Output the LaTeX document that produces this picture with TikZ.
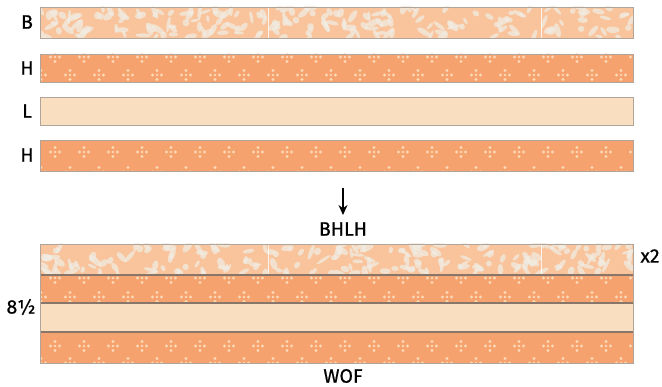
\documentclass[tikz,border=0pt]{standalone}
\usepackage{fontspec}
\setmainfont{Fira Sans}
\newfontfamily\labfont{Fira Sans}[FakeBold=0.6]
\usetikzlibrary{arrows.meta}
\definecolor{hcol}{RGB}{245,162,110}
\definecolor{bcol}{RGB}{249,196,156}
\definecolor{lcol}{RGB}{250,222,192}
\definecolor{motif}{RGB}{252,218,182}
\definecolor{blot}{RGB}{241,236,226}
\definecolor{edgec}{RGB}{175,165,155}
\definecolor{divc}{RGB}{135,118,105}
\tikzset{
  lab/.style={font=\labfont\fontsize{19.5}{22}\selectfont, inner sep=0pt},
  outline/.style={draw=edgec, line width=0.8pt},
  divline/.style={draw=divc, line width=1.1pt},
  seam/.style={draw=white, line width=0.9pt, opacity=0.8},
}
\newcommand\bstrip[3]{% ytop ybot seed
  \begin{scope}
    \clip (40,#1) rectangle (633,#2);
    \fill[bcol] (40,#1) rectangle (633,#2);
    \pgfmathsetseed{#3}
    \foreach \i in {1,...,190}{
      \pgfmathsetmacro\xx{40+593*rnd}
      \pgfmathsetmacro\yy{#1+(#2-#1)*rnd}
      \pgfmathsetmacro\rr{180*rnd}
      \pgfmathsetmacro\aa{3+5*rnd}
      \pgfmathsetmacro\bb{1.5+2*rnd}
      \fill[blot, opacity=0.75, rotate around={\rr:(\xx,\yy)}] (\xx,\yy) ellipse (\aa pt and \bb pt);
    }
    \draw[seam] (268,#1) -- (268,#2);
    \draw[seam] (541,#1) -- (541,#2);
  \end{scope}}
\newcommand\motifd[2]{% x y
  \fill[motif] (#1,#2-4.5) circle (1.6pt) (#1+4.5,#2) circle (1.6pt)
    (#1,#2+4.5) circle (1.6pt) (#1-4.5,#2) circle (1.6pt) (#1,#2) circle (1.4pt);}
\newcommand\hstrip[4]{% ytop ybot row1 row2
  \begin{scope}
    \clip (40,#1) rectangle (633,#2);
    \fill[hcol] (40,#1) rectangle (633,#2);
    \foreach \x in {55,84,...,650}{ \motifd{\x}{#3} }
    \foreach \x in {41,70,...,650}{ \motifd{\x}{#4} }
  \end{scope}}
\begin{document}
\begin{tikzpicture}[x=1pt,y=-1pt]
\useasboundingbox (0,0) rectangle (662,387);
% top strips
\bstrip{7}{38}{11}
\draw[outline] (40,7) rectangle (633,38);
\hstrip{54}{82}{57}{75}
\draw[outline] (40,54) rectangle (633,82);
\fill[lcol] (40,97) rectangle (633,125);
\draw[outline] (40,97) rectangle (633,125);
\hstrip{140}{171}{152}{172}
\draw[outline] (40,140) rectangle (633,171);
\node[lab] (lb) at (27,22) {B};
\node[lab] (lh1) at (27,68) {H};
\node[lab] (ll) at (27,111) {L};
\node[lab] (lh2) at (27,155) {H};
% arrow
\coordinate (a1) at (343,188);
\coordinate (a2) at (343,215);
\draw[line width=1.1pt, -{Stealth[length=10pt,width=9pt]}] (a1) -- (a2);
\node[lab] (bhlh) at (343,229) {BHLH};
% bottom block
\bstrip{244}{275}{23}
\hstrip{275}{303}{278}{297}
\fill[lcol] (40,303) rectangle (633,332);
\hstrip{332}{363}{346}{363}
\draw[divline] (40,275) -- (633,275);
\draw[divline] (40,303) -- (633,303);
\draw[divline] (40,332) -- (633,332);
\draw[outline] (40,244) rectangle (633,363);
\node[lab] (x2) at (650,256) {x2};
\node[lab] (h85) at (21,307) {8½};
\node[lab] (wof) at (343,376) {WOF};
\end{tikzpicture}
\end{document}
